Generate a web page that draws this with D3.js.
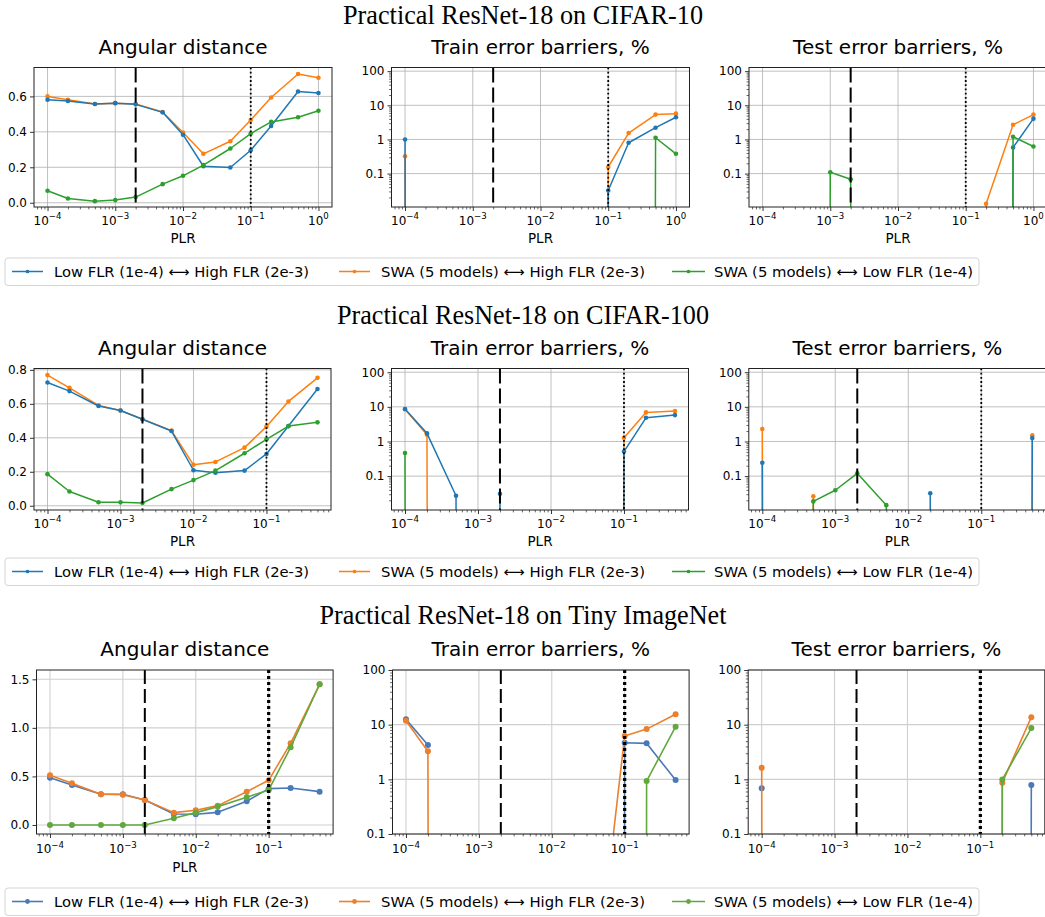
<!DOCTYPE html>
<html>
<head>
<meta charset="utf-8">
<script src="https://d3js.org/d3.v7.min.js"></script>
<style>
body{ margin:0; background:#fff; }
text{ font-family:"DejaVu Sans", sans-serif; fill:#000; }
</style>
</head>
<body>
<svg id="chart" width="1045" height="917"></svg>
<script>
// ---- data ------------------------------------------------------------------
// 0 = non-positive barrier (matplotlib clips it far below a log axis), null = missing
var plrFull  = [1e-4, 2e-4, 5e-4, 1e-3, 2e-3, 5e-3, 1e-2, 2e-2, 5e-2, 1e-1, 2e-1, 5e-1, 1];
var plrShort = [1e-4, 2e-4, 5e-4, 1e-3, 2e-3, 5e-3, 1e-2, 2e-2, 5e-2, 1e-1, 2e-1, 5e-1];

var seriesNames = ['Low FLR (1e-4) \u27F7 High FLR (2e-3)',
                   'SWA (5 models) \u27F7 High FLR (2e-3)',
                   'SWA (5 models) \u27F7 Low FLR (1e-4)'];
var panelTitles = ['Angular distance', 'Train error barriers, %', 'Test error barriers, %'];
var rowTitles = ['Practical ResNet-18 on CIFAR-10',
                 'Practical ResNet-18 on CIFAR-100',
                 'Practical ResNet-18 on Tiny ImageNet'];
var plrTicks = [1e-4, 1e-3, 1e-2, 1e-1, 1];
var errTicks = [0.1, 1, 10, 100];
var errTickLabels = ['0.1', '1', '10', '100'];
var angTicksC10  = [0, 0.2, 0.4, 0.6];
var angTicksC100 = [0, 0.2, 0.4, 0.6, 0.8];
var angTicksTin  = [0, 0.5, 1.0, 1.5];

// CIFAR-10
var c10AngLow     = [0.581, 0.574, 0.557, 0.562, 0.555, 0.510, 0.384, 0.206, 0.199, 0.296, 0.433, 0.628, 0.619];
var c10AngSwaHigh = [0.600, 0.581, 0.557, 0.562, 0.557, 0.512, 0.396, 0.276, 0.347, 0.467, 0.594, 0.726, 0.705];
var c10AngSwaLow  = [0.068, 0.024, 0.009, 0.015, 0.032, 0.105, 0.152, 0.212, 0.306, 0.390, 0.456, 0.482, 0.519];
var c10TrainLow     = [1.0, 0, 0, 0, 0, 0, 0, 0, 0, 0.032, 0.80, 2.21, 4.46];
var c10TrainSwaHigh = [0.32, 0, 0, 0, 0, 0, 0, 0, 0, 0.156, 1.54, 5.35, 5.7];
var c10TrainSwaLow  = [0, 0, 0, 0, 0, 0, 0, 0, 0, 0, 0, 1.12, 0.38];
var c10TestLow     = [0, 0, 0, 0, 0, 0, 0, 0, 0, 0, 0, 0.58, 4.07];
var c10TestSwaHigh = [0, 0, 0, 0, 0, 0, 0, 0, 0, 0, 0.013, 2.7, 5.35];
var c10TestSwaLow  = [0, 0, 0, 0.109, 0.068, 0, 0, 0, 0, 0, 0, 1.2, 0.62];

// CIFAR-100
var c100AngLow     = [0.726, 0.675, 0.587, 0.561, 0.509, 0.440, 0.209, 0.194, 0.207, 0.305, 0.469, 0.687];
var c100AngSwaHigh = [0.769, 0.694, 0.591, 0.561, 0.509, 0.442, 0.241, 0.258, 0.342, 0.466, 0.614, 0.753];
var c100AngSwaLow  = [0.186, 0.084, 0.021, 0.020, 0.016, 0.098, 0.151, 0.207, 0.309, 0.391, 0.469, 0.491];
var c100TrainLow     = [8.7, 1.72, 0.027, 0, 0.031, 0, 0, 0, 0, 0.51, 4.83, 5.78];
var c100TrainSwaHigh = [8.5, 1.57, 0, 0, 0, 0, 0, 0, 0, 1.28, 6.9, 7.6];
var c100TrainSwaLow  = [0.466, 0, 0, 0, 0, 0, 0, 0, 0, 0, 0, 0];
var c100TestLow     = [0.242, 0, 0, 0, 0, 0, 0, 0.032, 0, 0, 0, 1.25];
var c100TestSwaHigh = [2.3, 0, 0.026, 0, 0, 0, 0, 0, 0, 0, 0, 1.5];
var c100TestSwaLow  = [0, 0, 0.0186, 0.039, 0.12, 0.0145, 0, 0, 0, 0, 0, 0];

// Tiny ImageNet
var tinAngLow     = [0.487, 0.412, 0.316, 0.316, 0.257, 0.113, 0.110, 0.130, 0.244, 0.374, 0.381, 0.343];
var tinAngSwaHigh = [0.512, 0.429, 0.316, 0.312, 0.257, 0.127, 0.151, 0.199, 0.343, 0.460, 0.841, 1.449];
var tinAngSwaLow  = [0, 0, 0, 0, 0, 0.069, 0.127, 0.189, 0.285, 0.360, 0.800, 1.449];
var tinTrainLow     = [12.5, 4.25, null, null, null, null, null, null, 0, 4.68, 4.55, 0.97];
var tinTrainSwaHigh = [11.8, 3.25, 0, 0, 0, 0, 0, 0, 0.002, 6.2, 8.3, 15.5];
var tinTrainSwaLow  = [null, null, null, null, null, null, null, null, null, 0, 0.93, 9.2];
var tinTestLow     = [0.685, null, null, null, null, null, null, null, null, null, 0, 0.79];
var tinTestSwaHigh = [1.63, 0, null, null, null, null, null, null, null, 0, 0.87, 13.7];
var tinTestSwaLow  = [null, null, null, null, null, null, null, null, null, 0, 0.99, 8.65];

// ---- styles / layout ---------------------------------------------------------
var styleTab = { colors: ['#1f77b4', '#ff7f0e', '#2ca02c'], order: [1, 0, 2], r: 2.3, lw: 1.5,
                 grid: '#b0b0b0', gridW: 0.8, dash: '15,5', dashW: 2, dot: '1.8,2.4', dotW: 1.8 };
var styleTin = { colors: ['#4a79b9', '#ec7f2c', '#62a83f'], order: [0, 1, 2], r: 3, lw: 1.6,
                 grid: '#cfcfcf', gridW: 1.1, dash: '14,5', dashW: 2, dot: '3,3', dotW: 3.2 };

var rows = [
  { title: rowTitles[0], titleY: 24, titleLen: 360, top: 67.5, bottom: 207, lefts: [34, 391.5, 749], w: 298,
    xDomain: [Math.pow(10, -4.2), Math.pow(10, 0.2)], xs: plrFull,
    ang: [c10AngLow, c10AngSwaHigh, c10AngSwaLow], train: [c10TrainLow, c10TrainSwaHigh, c10TrainSwaLow],
    test: [c10TestLow, c10TestSwaHigh, c10TestSwaLow],
    angDomain: [-0.024, 0.763], angTicks: angTicksC10, logDomain: [0.0105, 128],
    tickDy: 17.5, plrDy: 36, plr: [true, true, true], legTop: 258, style: styleTab },
  { title: rowTitles[1], titleY: 324, titleLen: 372, top: 368.5, bottom: 510, lefts: [34, 391.5, 748.8], w: 297,
    xDomain: [Math.pow(10, -4.185), Math.pow(10, -0.116)], xs: plrShort,
    ang: [c100AngLow, c100AngSwaHigh, c100AngSwaLow], train: [c100TrainLow, c100TrainSwaHigh, c100TrainSwaLow],
    test: [c100TestLow, c100TestSwaHigh, c100TestSwaLow],
    angDomain: [-0.025, 0.808], angTicks: angTicksC100, logDomain: [0.0105, 128],
    tickDy: 17.5, plrDy: 35.5, plr: [true, true, true], legTop: 558, style: styleTab },
  { title: rowTitles[2], titleY: 624, titleLen: 407, top: 670, bottom: 834, lefts: [36.5, 392.5, 748.2], w: 296.6,
    xDomain: [Math.pow(10, -4.185), Math.pow(10, -0.116)], xs: plrShort,
    ang: [tinAngLow, tinAngSwaHigh, tinAngSwaLow], train: [tinTrainLow, tinTrainSwaHigh, tinTrainSwaLow],
    test: [tinTestLow, tinTestSwaHigh, tinTestSwaLow],
    angDomain: [-0.093, 1.596], angTicks: angTicksTin, logDomain: [0.1, 100],
    tickDy: 19, plrDy: 38, plr: [true, false, false], legTop: 888, style: styleTin }
];

var svg = d3.select('#chart');
var panelCount = 0;

/**************************************************************************************/

function drawPanel(cfg, st){
  var id = 'clip' + (panelCount++);
  var w = cfg.w, h = cfg.h;
  var g = svg.append('g').attr('transform', 'translate(' + cfg.x0 + ',' + cfg.y0 + ')');

  var x = d3.scaleLog().domain(cfg.xDomain).range([0, w]);
  var y = cfg.yLog ? d3.scaleLog().domain(cfg.yDomain).range([h, 0])
                   : d3.scaleLinear().domain(cfg.yDomain).range([h, 0]);

  g.append('clipPath').attr('id', id).append('rect').attr('width', w).attr('height', h);

  var xMajor = plrTicks.filter(function(v){ return v >= cfg.xDomain[0] && v <= cfg.xDomain[1]; });
  var xMinor = [];
  for(var e = -5; e <= 0; e++){
    for(var m = 2; m <= 9; m++){
      var v = m*Math.pow(10, e);
      if(v >= cfg.xDomain[0] && v <= cfg.xDomain[1]){ xMinor.push(v); }
    }
  }
  var yMinor = [];
  if(cfg.yLog){
    for(var e2 = -2; e2 <= 2; e2++){
      for(var m2 = 2; m2 <= 9; m2++){
        var v2 = m2*Math.pow(10, e2);
        if(v2 >= cfg.yDomain[0] && v2 <= cfg.yDomain[1]){ yMinor.push(v2); }
      }
    }
  }

  // grid
  g.append('g').selectAll('line').data(xMajor).join('line')
    .attr('x1', function(d){ return x(d); }).attr('x2', function(d){ return x(d); })
    .attr('y1', 0).attr('y2', h)
    .attr('stroke', st.grid).attr('stroke-width', st.gridW);
  g.append('g').selectAll('line').data(cfg.yTicks).join('line')
    .attr('y1', function(d){ return y(d); }).attr('y2', function(d){ return y(d); })
    .attr('x1', 0).attr('x2', w)
    .attr('stroke', st.grid).attr('stroke-width', st.gridW);

  // ticks
  function ticks(sel, wd){
    sel.select('.domain').remove();
    sel.selectAll('line').attr('stroke', '#000').attr('stroke-width', wd);
  }
  g.append('g').attr('transform', 'translate(0,' + h + ')')
    .call(d3.axisBottom(x).tickValues(xMajor).tickSize(4).tickFormat(''))
    .call(ticks, 0.8);
  g.append('g').attr('transform', 'translate(0,' + h + ')')
    .call(d3.axisBottom(x).tickValues(xMinor).tickSize(2.4).tickFormat(''))
    .call(ticks, 0.6);
  g.append('g').call(d3.axisLeft(y).tickValues(cfg.yTicks).tickSize(4).tickFormat(''))
    .call(ticks, 0.8);
  if(cfg.yLog){
    g.append('g').call(d3.axisLeft(y).tickValues(yMinor).tickSize(2.4).tickFormat(''))
      .call(ticks, 0.6);
  }

  // x tick labels 10^k
  var xl = g.append('g').selectAll('text').data(xMajor).join('text')
    .attr('x', function(d){ return x(d); }).attr('y', h + cfg.tickDy)
    .attr('text-anchor', 'middle').style('font-size', '12px');
  xl.append('tspan').text('10');
  xl.append('tspan').attr('dy', -5.2).style('font-size', '8.6px')
    .text(function(d){ var k = Math.round(Math.log10(d)); return k < 0 ? '\u2212' + (-k) : '' + k; });

  // y tick labels
  g.append('g').selectAll('text').data(cfg.yTicks).join('text')
    .attr('x', -7).attr('y', function(d){ return y(d); }).attr('dy', '0.36em')
    .attr('text-anchor', 'end').style('font-size', '12px')
    .text(function(d, i){ return cfg.yLabels ? cfg.yLabels[i] : d3.format('.1f')(d); });

  // series
  var plot = g.append('g').attr('clip-path', 'url(#' + id + ')');
  var yv = function(d){ return cfg.yLog ? y(d.y > 0 ? d.y : 1e-300) : y(d.y); };
  var line = d3.line().defined(function(d){ return d.y !== null; })
    .x(function(d){ return x(d.x); }).y(yv);

  st.order.forEach(function(k){
    var pts = cfg.xs.map(function(xv, i){ return { x: xv, y: cfg.series[k][i] }; });
    plot.append('path').datum(pts).attr('d', line)
      .attr('fill', 'none').attr('stroke', st.colors[k]).attr('stroke-width', st.lw)
      .attr('stroke-linejoin', 'round');
    plot.append('g').selectAll('circle')
      .data(pts.filter(function(d){ return d.y !== null && (!cfg.yLog || d.y > 0); }))
      .join('circle')
      .attr('cx', function(d){ return x(d.x); }).attr('cy', yv).attr('r', st.r)
      .attr('fill', st.colors[k]);
  });

  // reference lines
  plot.append('line').attr('x1', x(2e-3)).attr('x2', x(2e-3)).attr('y1', 0).attr('y2', h)
    .attr('stroke', '#000').attr('stroke-width', st.dashW).attr('stroke-dasharray', st.dash);
  plot.append('line').attr('x1', x(1e-1)).attr('x2', x(1e-1)).attr('y1', 0).attr('y2', h)
    .attr('stroke', '#000').attr('stroke-width', st.dotW).attr('stroke-dasharray', st.dot);

  // frame
  g.append('rect').attr('width', w).attr('height', h)
    .attr('fill', 'none').attr('stroke', '#222').attr('stroke-width', 1);

  g.append('text').attr('x', w/2).attr('y', -14).attr('text-anchor', 'middle')
    .style('font-size', '20px').text(cfg.title);
  if(cfg.plr){
    g.append('text').attr('x', w/2).attr('y', h + cfg.plrDy).attr('text-anchor', 'middle')
      .style('font-size', '13.5px').text('PLR');
  }
}

/**************************************************************************************/

function drawLegend(top, st){
  var g = svg.append('g').attr('transform', 'translate(0,' + top + ')');
  g.append('rect').attr('x', 5).attr('y', 0).attr('width', 974).attr('height', 27.5).attr('rx', 3)
    .attr('fill', '#fff').attr('stroke', '#d5d5d5').attr('stroke-width', 1);
  var lineX = [[12, 43], [339, 370], [672, 705]];
  var textX = [54, 381, 714];
  var textW = [255, 264, 259];
  seriesNames.forEach(function(name, i){
    g.append('line').attr('x1', lineX[i][0]).attr('x2', lineX[i][1]).attr('y1', 13.5).attr('y2', 13.5)
      .attr('stroke', st.colors[i]).attr('stroke-width', st.lw);
    g.append('circle').attr('cx', (lineX[i][0] + lineX[i][1])/2).attr('cy', 13.5).attr('r', st.r*0.8)
      .attr('fill', st.colors[i]);
    g.append('text').attr('x', textX[i]).attr('y', 13.5).attr('dy', '0.36em')
      .attr('textLength', textW[i]).attr('lengthAdjust', 'spacingAndGlyphs')
      .style('font-size', '14.5px').text(name);
  });
}

/**************************************************************************************/

rows.forEach(function(row){
  svg.append('text').attr('x', 523).attr('y', row.titleY).attr('text-anchor', 'middle')
    .attr('textLength', row.titleLen).attr('lengthAdjust', 'spacingAndGlyphs')
    .style('font-family', '"Liberation Serif", "Times New Roman", serif').style('font-size', '27px')
    .text(row.title);

  var h = row.bottom - row.top;
  var kinds = [
    { series: row.ang, yLog: false, yDomain: row.angDomain, yTicks: row.angTicks, yLabels: null },
    { series: row.train, yLog: true, yDomain: row.logDomain, yTicks: errTicks, yLabels: errTickLabels },
    { series: row.test, yLog: true, yDomain: row.logDomain, yTicks: errTicks, yLabels: errTickLabels }
  ];
  kinds.forEach(function(kd, j){
    drawPanel({
      x0: row.lefts[j], y0: row.top, w: row.w, h: h, xDomain: row.xDomain, xs: row.xs,
      series: kd.series, yLog: kd.yLog, yDomain: kd.yDomain, yTicks: kd.yTicks, yLabels: kd.yLabels,
      title: panelTitles[j], tickDy: row.tickDy, plrDy: row.plrDy, plr: row.plr[j]
    }, row.style);
  });
  drawLegend(row.legTop, row.style);
});
</script>
</body>
</html>
